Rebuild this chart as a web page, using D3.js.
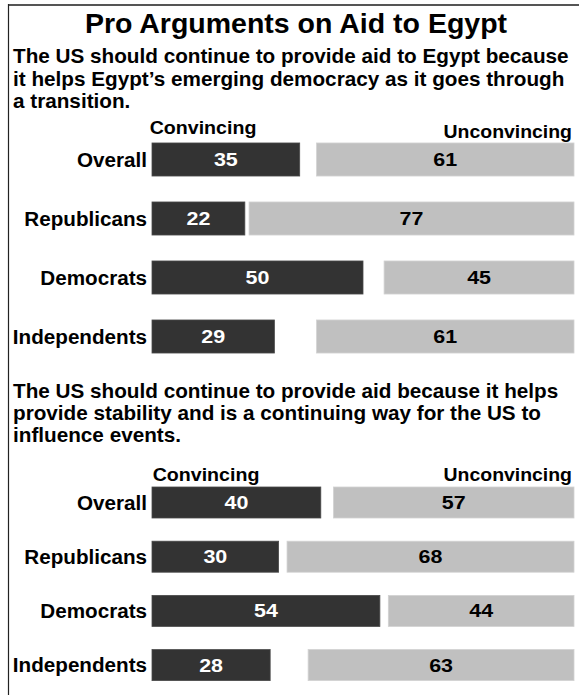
<!DOCTYPE html>
<html>
<head>
<meta charset="utf-8">
<script src="https://cdn.jsdelivr.net/npm/d3@7/dist/d3.min.js"></script>
<style>
  html, body { margin: 0; padding: 0; background: #fff; }
  svg { display: block; }
  text { font-family: "Liberation Sans", Arial, Helvetica, sans-serif; font-weight: bold; }
</style>
</head>
<body>
<svg id="chart" width="579" height="695"></svg>
<script>
// ---- Data ----
const chartTitle = "Pro Arguments on Aid to Egypt";
const groups = ["Overall", "Republicans", "Democrats", "Independents"];
const question1 = [
  "The US should continue to provide aid to Egypt because",
  "it helps Egypt\u2019s emerging democracy as it goes through",
  "a transition."
];
const convincing1 = [35, 22, 50, 29];
const unconvincing1 = [61, 77, 45, 61];
const question2 = [
  "The US should continue to provide aid because it helps",
  "provide stability and is a continuing way for the US to",
  "influence events."
];
const convincing2 = [40, 30, 54, 28];
const unconvincing2 = [57, 68, 44, 63];
const legendLabels = ["Convincing", "Unconvincing"];

// ---- Layout ----
const W = 579, H = 695;
const svg = d3.select("#chart");
const DARK = "#333333", LIGHT = "#c0c0c0";

const x = d3.scaleLinear().domain([0, 100]).range([152, 574]);

function txt(g, s, tx, ty, size, sx, anchor, fill) {
  return g.append("text")
    .attr("transform", `translate(${tx},${ty}) scale(${sx},1)`)
    .attr("text-anchor", anchor)
    .attr("font-size", size)
    .attr("fill", fill || "#000")
    .text(s);
}

// frame
svg.append("line").attr("x1", 8).attr("x2", W).attr("y1", 5).attr("y2", 5)
  .attr("stroke", "#555").attr("stroke-width", 2);
svg.append("line").attr("x1", 8.5).attr("x2", 8.5).attr("y1", 4).attr("y2", H)
  .attr("stroke", "#222").attr("stroke-width", 1.2);

// title
txt(svg, chartTitle, 296, 33, 28.5, 1, "middle");

const sections = [
  { q: question1, conv: convincing1, unc: unconvincing1, qy: 63, lineH: 22.5,
    legY: [134, 138], legX: [203, 572], band: [130, 366], pIn: 0.44 },
  { q: question2, conv: convincing2, unc: unconvincing2, qy: 398, lineH: 22,
    legY: [481, 481], legX: [206, 572], band: [475.4, 692.2], pIn: 0.428 }
];

sections.forEach(sec => {
  const g = svg.append("g");
  sec.q.forEach((line, i) => txt(g, line, 13, sec.qy + i * sec.lineH, 20.3, 1.02, "start"));
  txt(g, legendLabels[0], sec.legX[0], sec.legY[0], 18, 1.09, "middle");
  txt(g, legendLabels[1], sec.legX[1], sec.legY[1], 18, 1.08, "end");

  const y = d3.scaleBand().domain(groups).range(sec.band)
    .paddingInner(sec.pIn).paddingOuter(sec.pIn / 2);

  const rows = groups.map((grp, i) => ({ grp, c: sec.conv[i], u: sec.unc[i] }));
  const row = g.selectAll("g.row").data(rows).join("g").attr("class", "row");

  row.append("rect")
    .attr("x", x(0)).attr("y", d => y(d.grp))
    .attr("width", d => x(d.c) - x(0)).attr("height", y.bandwidth())
    .attr("fill", DARK).attr("stroke", "#4a4a4a").attr("stroke-width", 0.8);
  row.append("rect")
    .attr("x", d => x(100 - d.u)).attr("y", d => y(d.grp))
    .attr("width", d => x(100) - x(100 - d.u)).attr("height", y.bandwidth())
    .attr("fill", LIGHT).attr("stroke", "#d2d2d2").attr("stroke-width", 0.8);

  row.each(function(d) {
    const r = d3.select(this);
    const cy = y(d.grp) + y.bandwidth() / 2;
    txt(r, d.grp, 147, cy + 7, 19.3, 1.07, "end");
    txt(r, d.c, (x(0) + x(d.c)) / 2, cy + 6.5, 18.5, 1.16, "middle", "#fff");
    txt(r, d.u, (x(100 - d.u) + x(100)) / 2, cy + 6.5, 18.5, 1.16, "middle", "#000");
  });
});
</script>
</body>
</html>
